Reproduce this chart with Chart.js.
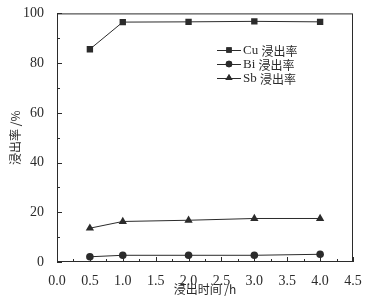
<!DOCTYPE html>
<html lang="zh">
<head>
<meta charset="UTF-8" />
<title>浸出率</title>
<script src="https://cdn.jsdelivr.net/npm/chart.js"></script>
<style>
  html, body { margin: 0; padding: 0; background: #fff; }
  #wrap { width: 375px; height: 300px; }
</style>
</head>
<body>
<div id="wrap"><canvas id="leach" width="375" height="300"></canvas></div>
<script>
// data
var hours = [0.5, 1.0, 2.0, 3.0, 4.0];
var cuRate = [85.6, 96.5, 96.6, 96.8, 96.6];
var biRate = [2.1, 2.7, 2.7, 2.7, 3.1];
var sbRate = [13.6, 16.3, 16.8, 17.5, 17.5];
var seriesNames = ['Cu 浸出率', 'Bi 浸出率', 'Sb 浸出率'];
var xTicks = [0, 0.5, 1, 1.5, 2, 2.5, 3, 3.5, 4, 4.5];
var yTicks = [0, 20, 40, 60, 80, 100];

var ink = '#2b2b2b';
var serif = "'Liberation Serif', 'DejaVu Serif', serif";
var cjk = "'Noto Sans CJK SC', sans-serif";

function pts(ys) {
    return hours.map(function (h, i) { return { x: h, y: ys[i] }; });
}

var styles = [
    { style: 'rect', radius: 4.5 },
    { style: 'circle', radius: 3.8 },
    { style: 'triangle', radius: 4.8 }
];

var datasets = [cuRate, biRate, sbRate].map(function (ys, i) {
    return {
        label: seriesNames[i],
        data: pts(ys),
        borderColor: ink,
        backgroundColor: ink,
        borderWidth: 1,
        pointStyle: styles[i].style,
        pointRadius: styles[i].radius,
        pointBorderWidth: 0,
        tension: 0
    };
});

// frame + inward ticks, and the legend inside the plot
var framePlugin = {
    id: 'frame',
    afterDraw: function (chart) {
        var c = chart.ctx, a = chart.chartArea;
        var xs = chart.scales.x, ys = chart.scales.y;
        c.save();
        c.strokeStyle = ink;
        c.lineWidth = 1;
        c.strokeRect(a.left + 0.5, a.top + 0.5, a.right - a.left - 1, a.bottom - a.top - 1);
        c.beginPath();
        for (var v = 0; v <= 4.5001; v += 0.25) {
            var px = Math.round(xs.getPixelForValue(v)) + 0.5;
            var len = Math.abs(v / 0.5 - Math.round(v / 0.5)) < 0.01 ? 5 : 3;
            c.moveTo(px, a.bottom);
            c.lineTo(px, a.bottom - len);
        }
        for (var w = 0; w <= 100.01; w += 10) {
            var py = Math.round(ys.getPixelForValue(w)) + 0.5;
            var l2 = (w % 20 === 0) ? 5 : 3;
            c.moveTo(a.left, py);
            c.lineTo(a.left + l2, py);
        }
        c.stroke();

        // legend
        var lx = 217, ly = 50, gap = 14;
        datasets.forEach(function (d, i) {
            var y = ly + i * gap;
            c.beginPath();
            c.moveTo(lx, y + 0.5);
            c.lineTo(lx + 24, y + 0.5);
            c.stroke();
            c.fillStyle = ink;
            Chart.helpers.drawPoint(c, { pointStyle: d.pointStyle, radius: d.pointRadius * 0.85, borderWidth: 0 }, lx + 12, y);
            c.fill();
            c.textBaseline = 'middle';
            var parts = d.label.split(' ');
            c.font = '13px ' + serif;
            c.fillText(parts[0], lx + 26, y + 1);
            var w0 = c.measureText(parts[0] + ' ').width;
            c.font = '12px ' + cjk;
            c.fillText(parts[1], lx + 26 + w0, y + 1);
        });
        c.restore();
    }
};

new Chart(document.getElementById('leach').getContext('2d'), {
    type: 'line',
    data: { datasets: datasets },
    options: {
        responsive: false,
        animation: false,
        layout: { padding: { top: 12, right: 22, left: 0, bottom: 0 } },
        plugins: { legend: { display: false }, tooltip: { enabled: false } },
        scales: {
            x: {
                type: 'linear',
                min: 0, max: 4.5,
                afterBuildTicks: function (s) { s.ticks = xTicks.map(function (v) { return { value: v }; }); },
                afterFit: function (s) { s.height = 38; },
                grid: { display: false },
                border: { display: false },
                ticks: {
                    color: ink, padding: 3,
                    font: { family: serif, size: 14 },
                    callback: function (v) { return v.toFixed(1); }
                },
                title: {
                    display: true, text: '浸出时间 /h', color: ink,
                    font: { family: cjk, size: 12 }, padding: { top: 0, bottom: 3 }
                }
            },
            y: {
                min: 0, max: 100,
                afterBuildTicks: function (s) { s.ticks = yTicks.map(function (v) { return { value: v }; }); },
                afterFit: function (s) { s.width = 57; },
                grid: { display: false },
                border: { display: false },
                ticks: {
                    color: ink, padding: 5,
                    font: { family: serif, size: 14 }
                },
                title: {
                    display: true, text: '浸出率 /%', color: ink,
                    font: { family: cjk, size: 12 }, padding: { top: 8, bottom: 4 }
                }
            }
        }
    },
    plugins: [framePlugin]
});
</script>
</body>
</html>
